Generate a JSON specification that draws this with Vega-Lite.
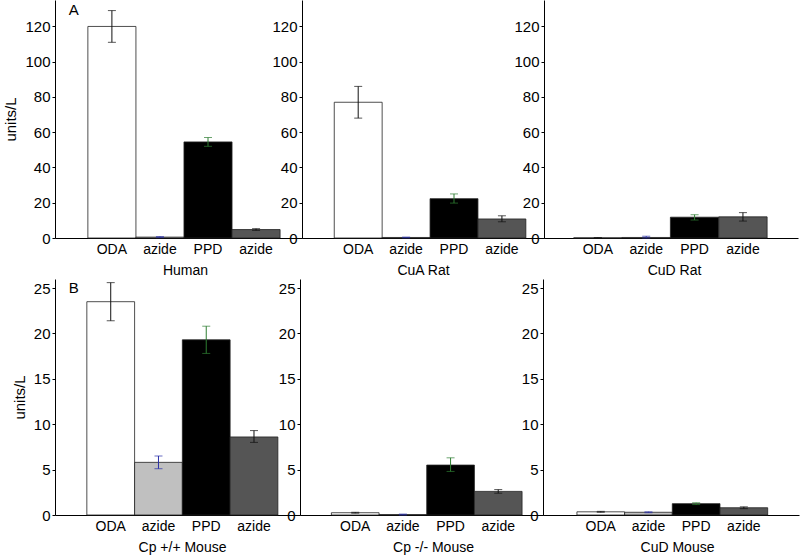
{
  "$schema": "https://vega.github.io/schema/vega-lite/v6.json",
  "padding": {"left": 3, "top": 0, "right": 1, "bottom": 1},
  "spacing": 2,
  "config": {
    "font": "Liberation Sans",
    "view": {"stroke": null},
    "axis": {"grid": false, "domainColor": "black", "tickColor": "black", "labelColor": "black", "titleColor": "black", "titleFontWeight": "normal", "labelFont": "Liberation Sans", "titleFont": "Liberation Sans", "labelOverlap": false},
    "axisY": {"labelFontSize": 15, "titleFontSize": 15, "tickSize": 3, "labelPadding": 2, "titlePadding": 6},
    "axisX": {"labelFontSize": 14, "titleFontSize": 14, "ticks": false, "labelAngle": 0, "labelPadding": 4, "titlePadding": 7},
    "text": {"font": "Liberation Sans", "fontSize": 15, "color": "black"}
  },
  "data": {"values": [
    {"panel": "Human", "cond": "ODA", "v": 120, "lo": 111, "hi": 129},
    {"panel": "Human", "cond": "azide1", "v": 0.5, "lo": 0.2, "hi": 0.8},
    {"panel": "Human", "cond": "PPD", "v": 54.5, "lo": 52, "hi": 57},
    {"panel": "Human", "cond": "azide2", "v": 4.8, "lo": 4.3, "hi": 5.3},
    {"panel": "CuA Rat", "cond": "ODA", "v": 77, "lo": 68, "hi": 86},
    {"panel": "CuA Rat", "cond": "azide1", "v": 0.3, "lo": 0.1, "hi": 0.5},
    {"panel": "CuA Rat", "cond": "PPD", "v": 22.3, "lo": 19.8, "hi": 25},
    {"panel": "CuA Rat", "cond": "azide2", "v": 10.8, "lo": 9.2, "hi": 12.6},
    {"panel": "CuD Rat", "cond": "ODA", "v": 0.1, "lo": 0, "hi": 0.2},
    {"panel": "CuD Rat", "cond": "azide1", "v": 0.3, "lo": 0, "hi": 1},
    {"panel": "CuD Rat", "cond": "PPD", "v": 11.8, "lo": 10.2, "hi": 13.2},
    {"panel": "CuD Rat", "cond": "azide2", "v": 12, "lo": 9.6, "hi": 14.4},
    {"panel": "Cp +/+ Mouse", "cond": "ODA", "v": 23.5, "lo": 21.4, "hi": 25.6},
    {"panel": "Cp +/+ Mouse", "cond": "azide1", "v": 5.8, "lo": 5.1, "hi": 6.5},
    {"panel": "Cp +/+ Mouse", "cond": "PPD", "v": 19.3, "lo": 17.8, "hi": 20.8},
    {"panel": "Cp +/+ Mouse", "cond": "azide2", "v": 8.6, "lo": 8, "hi": 9.3},
    {"panel": "Cp -/- Mouse", "cond": "ODA", "v": 0.25, "lo": 0.2, "hi": 0.3},
    {"panel": "Cp -/- Mouse", "cond": "azide1", "v": 0.05, "lo": 0, "hi": 0.1},
    {"panel": "Cp -/- Mouse", "cond": "PPD", "v": 5.5, "lo": 4.8, "hi": 6.3},
    {"panel": "Cp -/- Mouse", "cond": "azide2", "v": 2.6, "lo": 2.4, "hi": 2.8},
    {"panel": "CuD Mouse", "cond": "ODA", "v": 0.35, "lo": 0.3, "hi": 0.4},
    {"panel": "CuD Mouse", "cond": "azide1", "v": 0.3, "lo": 0.25, "hi": 0.35},
    {"panel": "CuD Mouse", "cond": "PPD", "v": 1.25, "lo": 1.15, "hi": 1.35},
    {"panel": "CuD Mouse", "cond": "azide2", "v": 0.8, "lo": 0.7, "hi": 0.9}
  ]},
  "vconcat": [
    {
      "bounds": "flush",
      "spacing": 0,
      "hconcat": [
        {
          "width": 247, "height": 238,
          "transform": [{"filter": "datum.panel == 'Human'"}],
          "encoding": {"x": {"field": "cond", "type": "nominal", "sort": null, "scale": {"domain": ["ODA", "azide1", "PPD", "azide2"], "paddingInner": 0, "paddingOuter": 0.57, "align": 0.6}, "axis": {"title": "Human", "titleX": 130, "labelExpr": "slice(datum.label, 0, 5)"}}},
          "layer": [
            {"mark": {"type": "bar", "stroke": "#222", "strokeWidth": 0.8}, "encoding": {"y": {"field": "v", "type": "quantitative", "scale": {"domain": [0, 135], "nice": false}, "axis": {"values": [0, 20, 40, 60, 80, 100, 120], "title": "units/L"}}, "fill": {"field": "cond", "type": "nominal", "scale": {"domain": ["ODA", "azide1", "PPD", "azide2"], "range": ["#ffffff", "#c0c0c0", "#000000", "#555555"]}, "legend": null}}},
            {"mark": {"type": "rule", "strokeWidth": 1}, "encoding": {"y": {"field": "lo", "type": "quantitative", "axis": {"values": [0, 20, 40, 60, 80, 100, 120], "title": "units/L"}}, "y2": {"field": "hi"}, "color": {"field": "cond", "type": "nominal", "scale": {"domain": ["ODA", "azide1", "PPD", "azide2"], "range": ["#111111", "#2a2fa8", "#2e7d32", "#111111"]}, "legend": null}}},
            {"mark": {"type": "tick", "size": 8, "thickness": 1}, "encoding": {"y": {"field": "lo", "type": "quantitative", "axis": {"values": [0, 20, 40, 60, 80, 100, 120], "title": "units/L"}}, "color": {"field": "cond", "type": "nominal", "legend": null}}},
            {"mark": {"type": "tick", "size": 8, "thickness": 1}, "encoding": {"y": {"field": "hi", "type": "quantitative", "axis": {"values": [0, 20, 40, 60, 80, 100, 120], "title": "units/L"}}, "color": {"field": "cond", "type": "nominal", "legend": null}}},
            {"data": {"values": [{"lab": "A"}]}, "mark": {"type": "text", "align": "left", "baseline": "alphabetic", "dx": -19}, "encoding": {"x": {"datum": "ODA", "bandPosition": 0}, "y": {"datum": 126.5, "type": "quantitative", "axis": {"values": [0, 20, 40, 60, 80, 100, 120], "title": "units/L"}}, "text": {"field": "lab"}}}
          ]
        },
        {
          "width": 242, "height": 238,
          "transform": [{"filter": "datum.panel == 'CuA Rat'"}],
          "encoding": {"x": {"field": "cond", "type": "nominal", "sort": null, "scale": {"domain": ["ODA", "azide1", "PPD", "azide2"], "paddingInner": 0, "paddingOuter": 0.526, "align": 0.64}, "axis": {"title": "CuA Rat", "labelExpr": "slice(datum.label, 0, 5)"}}},
          "layer": [
            {"mark": {"type": "bar", "stroke": "#222", "strokeWidth": 0.8}, "encoding": {"y": {"field": "v", "type": "quantitative", "scale": {"domain": [0, 135], "nice": false}, "axis": {"values": [0, 20, 40, 60, 80, 100, 120], "title": null}}, "fill": {"field": "cond", "type": "nominal", "scale": {"domain": ["ODA", "azide1", "PPD", "azide2"], "range": ["#ffffff", "#c0c0c0", "#000000", "#555555"]}, "legend": null}}},
            {"mark": {"type": "rule", "strokeWidth": 1}, "encoding": {"y": {"field": "lo", "type": "quantitative", "axis": {"values": [0, 20, 40, 60, 80, 100, 120], "title": null}}, "y2": {"field": "hi"}, "color": {"field": "cond", "type": "nominal", "scale": {"domain": ["ODA", "azide1", "PPD", "azide2"], "range": ["#111111", "#2a2fa8", "#2e7d32", "#111111"]}, "legend": null}}},
            {"mark": {"type": "tick", "size": 8, "thickness": 1}, "encoding": {"y": {"field": "lo", "type": "quantitative", "axis": {"values": [0, 20, 40, 60, 80, 100, 120], "title": null}}, "color": {"field": "cond", "type": "nominal", "legend": null}}},
            {"mark": {"type": "tick", "size": 8, "thickness": 1}, "encoding": {"y": {"field": "hi", "type": "quantitative", "axis": {"values": [0, 20, 40, 60, 80, 100, 120], "title": null}}, "color": {"field": "cond", "type": "nominal", "legend": null}}}
          ]
        },
        {
          "width": 254, "height": 238,
          "transform": [{"filter": "datum.panel == 'CuD Rat'"}],
          "encoding": {"x": {"field": "cond", "type": "nominal", "sort": null, "scale": {"domain": ["ODA", "azide1", "PPD", "azide2"], "paddingInner": 0, "paddingOuter": 0.626, "align": 0.49}, "axis": {"title": "CuD Rat", "titleX": 130, "labelExpr": "slice(datum.label, 0, 5)"}}},
          "layer": [
            {"mark": {"type": "bar", "stroke": "#222", "strokeWidth": 0.8}, "encoding": {"y": {"field": "v", "type": "quantitative", "scale": {"domain": [0, 135], "nice": false}, "axis": {"values": [0, 20, 40, 60, 80, 100, 120], "title": null}}, "fill": {"field": "cond", "type": "nominal", "scale": {"domain": ["ODA", "azide1", "PPD", "azide2"], "range": ["#ffffff", "#c0c0c0", "#000000", "#555555"]}, "legend": null}}},
            {"mark": {"type": "rule", "strokeWidth": 1}, "encoding": {"y": {"field": "lo", "type": "quantitative", "axis": {"values": [0, 20, 40, 60, 80, 100, 120], "title": null}}, "y2": {"field": "hi"}, "color": {"field": "cond", "type": "nominal", "scale": {"domain": ["ODA", "azide1", "PPD", "azide2"], "range": ["#111111", "#2a2fa8", "#2e7d32", "#111111"]}, "legend": null}}},
            {"mark": {"type": "tick", "size": 8, "thickness": 1}, "encoding": {"y": {"field": "lo", "type": "quantitative", "axis": {"values": [0, 20, 40, 60, 80, 100, 120], "title": null}}, "color": {"field": "cond", "type": "nominal", "legend": null}}},
            {"mark": {"type": "tick", "size": 8, "thickness": 1}, "encoding": {"y": {"field": "hi", "type": "quantitative", "axis": {"values": [0, 20, 40, 60, 80, 100, 120], "title": null}}, "color": {"field": "cond", "type": "nominal", "legend": null}}}
          ]
        }
      ]
    },
    {
      "bounds": "flush",
      "spacing": 0,
      "hconcat": [
        {
          "width": 245, "height": 236,
          "transform": [{"filter": "datum.panel == 'Cp +/+ Mouse'"}],
          "encoding": {"x": {"field": "cond", "type": "nominal", "sort": null, "scale": {"domain": ["ODA", "azide1", "PPD", "azide2"], "paddingInner": 0, "paddingOuter": 0.565, "align": 0.59}, "axis": {"title": "Cp +/+  Mouse", "titleX": 127, "labelExpr": "slice(datum.label, 0, 5)"}}},
          "layer": [
            {"mark": {"type": "bar", "stroke": "#222", "strokeWidth": 0.8}, "encoding": {"y": {"field": "v", "type": "quantitative", "scale": {"domain": [0, 26], "nice": false}, "axis": {"values": [0, 5, 10, 15, 20, 25], "title": "units/L"}}, "fill": {"field": "cond", "type": "nominal", "scale": {"domain": ["ODA", "azide1", "PPD", "azide2"], "range": ["#ffffff", "#c0c0c0", "#000000", "#555555"]}, "legend": null}}},
            {"mark": {"type": "rule", "strokeWidth": 1}, "encoding": {"y": {"field": "lo", "type": "quantitative", "axis": {"values": [0, 5, 10, 15, 20, 25], "title": "units/L"}}, "y2": {"field": "hi"}, "color": {"field": "cond", "type": "nominal", "scale": {"domain": ["ODA", "azide1", "PPD", "azide2"], "range": ["#111111", "#2a2fa8", "#2e7d32", "#111111"]}, "legend": null}}},
            {"mark": {"type": "tick", "size": 8, "thickness": 1}, "encoding": {"y": {"field": "lo", "type": "quantitative", "axis": {"values": [0, 5, 10, 15, 20, 25], "title": "units/L"}}, "color": {"field": "cond", "type": "nominal", "legend": null}}},
            {"mark": {"type": "tick", "size": 8, "thickness": 1}, "encoding": {"y": {"field": "hi", "type": "quantitative", "axis": {"values": [0, 5, 10, 15, 20, 25], "title": "units/L"}}, "color": {"field": "cond", "type": "nominal", "legend": null}}},
            {"data": {"values": [{"lab": "B"}]}, "mark": {"type": "text", "align": "left", "baseline": "alphabetic", "dx": -18}, "encoding": {"x": {"datum": "ODA", "bandPosition": 0}, "y": {"datum": 24.5, "type": "quantitative", "axis": {"values": [0, 5, 10, 15, 20, 25], "title": "units/L"}}, "text": {"field": "lab"}}}
          ]
        },
        {
          "width": 243, "height": 236,
          "transform": [{"filter": "datum.panel == 'Cp -/- Mouse'"}],
          "encoding": {"x": {"field": "cond", "type": "nominal", "sort": null, "scale": {"domain": ["ODA", "azide1", "PPD", "azide2"], "paddingInner": 0, "paddingOuter": 0.549, "align": 0.6}, "axis": {"title": "Cp -/- Mouse", "titleX": 133, "labelExpr": "slice(datum.label, 0, 5)"}}},
          "layer": [
            {"mark": {"type": "bar", "stroke": "#222", "strokeWidth": 0.8}, "encoding": {"y": {"field": "v", "type": "quantitative", "scale": {"domain": [0, 26], "nice": false}, "axis": {"values": [0, 5, 10, 15, 20, 25], "title": null}}, "fill": {"field": "cond", "type": "nominal", "scale": {"domain": ["ODA", "azide1", "PPD", "azide2"], "range": ["#ffffff", "#c0c0c0", "#000000", "#555555"]}, "legend": null}}},
            {"mark": {"type": "rule", "strokeWidth": 1}, "encoding": {"y": {"field": "lo", "type": "quantitative", "axis": {"values": [0, 5, 10, 15, 20, 25], "title": null}}, "y2": {"field": "hi"}, "color": {"field": "cond", "type": "nominal", "scale": {"domain": ["ODA", "azide1", "PPD", "azide2"], "range": ["#111111", "#2a2fa8", "#2e7d32", "#111111"]}, "legend": null}}},
            {"mark": {"type": "tick", "size": 8, "thickness": 1}, "encoding": {"y": {"field": "lo", "type": "quantitative", "axis": {"values": [0, 5, 10, 15, 20, 25], "title": null}}, "color": {"field": "cond", "type": "nominal", "legend": null}}},
            {"mark": {"type": "tick", "size": 8, "thickness": 1}, "encoding": {"y": {"field": "hi", "type": "quantitative", "axis": {"values": [0, 5, 10, 15, 20, 25], "title": null}}, "color": {"field": "cond", "type": "nominal", "legend": null}}}
          ]
        },
        {
          "width": 256, "height": 236,
          "transform": [{"filter": "datum.panel == 'CuD Mouse'"}],
          "encoding": {"x": {"field": "cond", "type": "nominal", "sort": null, "scale": {"domain": ["ODA", "azide1", "PPD", "azide2"], "paddingInner": 0, "paddingOuter": 0.684, "align": 0.52}, "axis": {"title": "CuD Mouse", "titleX": 134, "labelExpr": "slice(datum.label, 0, 5)"}}},
          "layer": [
            {"mark": {"type": "bar", "stroke": "#222", "strokeWidth": 0.8}, "encoding": {"y": {"field": "v", "type": "quantitative", "scale": {"domain": [0, 26], "nice": false}, "axis": {"values": [0, 5, 10, 15, 20, 25], "title": null}}, "fill": {"field": "cond", "type": "nominal", "scale": {"domain": ["ODA", "azide1", "PPD", "azide2"], "range": ["#ffffff", "#c0c0c0", "#000000", "#555555"]}, "legend": null}}},
            {"mark": {"type": "rule", "strokeWidth": 1}, "encoding": {"y": {"field": "lo", "type": "quantitative", "axis": {"values": [0, 5, 10, 15, 20, 25], "title": null}}, "y2": {"field": "hi"}, "color": {"field": "cond", "type": "nominal", "scale": {"domain": ["ODA", "azide1", "PPD", "azide2"], "range": ["#111111", "#2a2fa8", "#2e7d32", "#111111"]}, "legend": null}}},
            {"mark": {"type": "tick", "size": 8, "thickness": 1}, "encoding": {"y": {"field": "lo", "type": "quantitative", "axis": {"values": [0, 5, 10, 15, 20, 25], "title": null}}, "color": {"field": "cond", "type": "nominal", "legend": null}}},
            {"mark": {"type": "tick", "size": 8, "thickness": 1}, "encoding": {"y": {"field": "hi", "type": "quantitative", "axis": {"values": [0, 5, 10, 15, 20, 25], "title": null}}, "color": {"field": "cond", "type": "nominal", "legend": null}}}
          ]
        }
      ]
    }
  ]
}
